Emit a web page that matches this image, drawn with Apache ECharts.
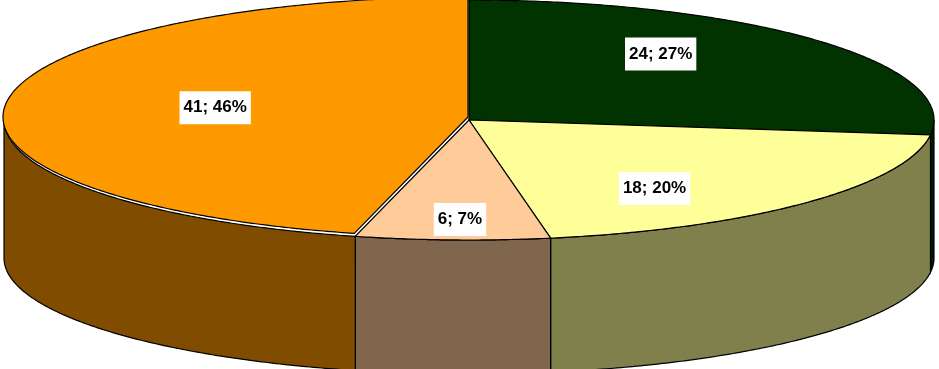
<!DOCTYPE html>
<html>
<head>
<meta charset="utf-8">
<script src="https://cdn.jsdelivr.net/npm/echarts@6/dist/echarts.min.js"></script>
<style>html,body{margin:0;padding:0;background:#fff}#c{width:939px;height:369px}</style>
</head>
<body>
<div id="c"></div>
<script>
// ---- data ----
const categories = ['Slice A', 'Slice B', 'Slice C', 'Slice D'];
const values = [24, 18, 6, 41];

// ---- styles ----
const topColors = ['#003300', '#FFFF99', '#FFCC99', '#FF9900'];
const sideColors = ['#001A00', '#80804C', '#80664C', '#804C00'];
const topOffsets = [[0, 0], [0, 0], [0, 0], [-1, -3]];
const G = { cx: 469, rx: 465, topCy: 120, topRy: 120, botCy: 258, botRy: 116 };
const LABEL_RX = 0.55, LABEL_RY = 0.83;

const total = values.reduce((s, v) => s + v, 0);
const starts = [], ends = [];
let acc = 0;
values.forEach(v => { starts.push(acc / total * 360); acc += v; ends.push(acc / total * 360); });

function pt(deg, cy, ry) {
  const r = deg * Math.PI / 180;
  return [G.cx + G.rx * Math.sin(r), cy - ry * Math.cos(r)];
}

function renderItem(params, api) {
  const i = params.dataIndex;
  const v = api.value(0);
  const a = starts[i], b = ends[i];
  const off = topOffsets[i];
  const children = [];
  // visible outer wall (front half: 90..270 deg)
  const wa = Math.max(a, 90), wb = Math.min(b, 270);
  if (wb > wa) {
    const pts = [];
    for (let d = wa; d < wb; d += 0.5) pts.push(pt(d, G.topCy, G.topRy));
    pts.push(pt(wb, G.topCy, G.topRy));
    for (let d = wb; d > wa; d -= 0.5) pts.push(pt(d, G.botCy, G.botRy));
    pts.push(pt(wa, G.botCy, G.botRy));
    children.push({ type: 'polygon', shape: { points: pts }, z2: 1,
      style: { fill: sideColors[i], stroke: '#000', lineWidth: 1.2 } });
  }
  // top surface
  const tp = [[G.cx + off[0], G.topCy + off[1]]];
  for (let d = a; d < b; d += 0.5) { const p = pt(d, G.topCy, G.topRy); tp.push([p[0] + off[0], p[1] + off[1]]); }
  const pe = pt(b, G.topCy, G.topRy); tp.push([pe[0] + off[0], pe[1] + off[1]]);
  children.push({ type: 'polygon', shape: { points: tp }, z2: 2,
    style: { fill: topColors[i], stroke: '#000', lineWidth: 1.2 } });
  // label
  const m = (a + b) / 2 * Math.PI / 180;
  children.push({ type: 'text', z2: 3,
    x: G.cx + LABEL_RX * G.rx * Math.sin(m),
    y: G.topCy - LABEL_RY * G.topRy * Math.cos(m),
    style: {
      text: v + '; ' + Math.round(v / total * 100) + '%',
      font: 'bold 17px "Liberation Sans", Arial, sans-serif',
      fill: '#000', align: 'center', verticalAlign: 'middle',
      backgroundColor: '#fff', padding: [8, 4]
    } });
  return { type: 'group', children };
}

const chart = echarts.init(document.getElementById('c'), null, { renderer: 'canvas' });
chart.setOption({
  animation: false,
  backgroundColor: '#fff',
  series: [{
    type: 'custom',
    coordinateSystem: 'none',
    silent: true,
    renderItem: renderItem,
    data: values.map((v, i) => ({ name: categories[i], value: [v] }))
  }]
});
</script>
</body>
</html>
